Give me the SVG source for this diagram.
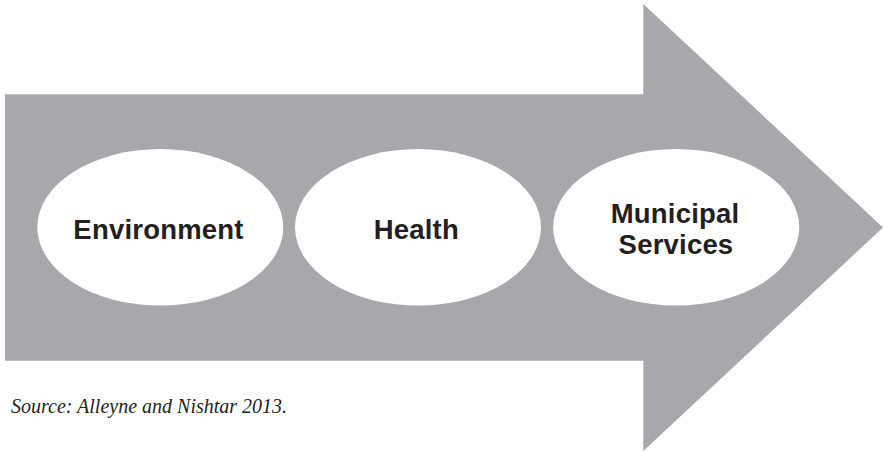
<svg xmlns="http://www.w3.org/2000/svg" width="884" height="452" viewBox="0 0 884 452">
  <style>
    .arrow { fill: #a7a8ab; }
    .oval { fill: #ffffff; }
    .label { font-family: "Liberation Sans", Arial, sans-serif; font-weight: bold; font-size: 27.5px; letter-spacing: 0.2px; fill: #231f20; text-anchor: middle; }
    .source { font-family: "Liberation Serif", "Times New Roman", serif; font-style: italic; font-size: 20px; fill: #231f20; }
  </style>
  <rect width="884" height="452" fill="#ffffff"/>
  <g id="arrow">
    <polygon class="arrow" points="5,94.3 643.3,94.3 643.3,4 883,227.5 643.3,451 643.3,360.7 5,360.7"/>
  </g>
  <g id="connectors"></g>
  <g id="node-environment">
    <ellipse class="oval" cx="160.3" cy="227.3" rx="123" ry="78.3"/>
    <text class="label" x="158.5" y="239">Environment</text>
  </g>
  <g id="node-health">
    <ellipse class="oval" cx="418" cy="227.3" rx="123" ry="78.3"/>
    <text class="label" x="416.3" y="239">Health</text>
  </g>
  <g id="node-municipal">
    <ellipse class="oval" cx="676.2" cy="227.3" rx="123" ry="78.3"/>
    <text class="label" x="675" y="223.3">Municipal</text>
    <text class="label" x="676" y="254">Services</text>
  </g>
  <text class="source" x="11" y="412.7">Source: Alleyne and Nishtar 2013.</text>
</svg>
